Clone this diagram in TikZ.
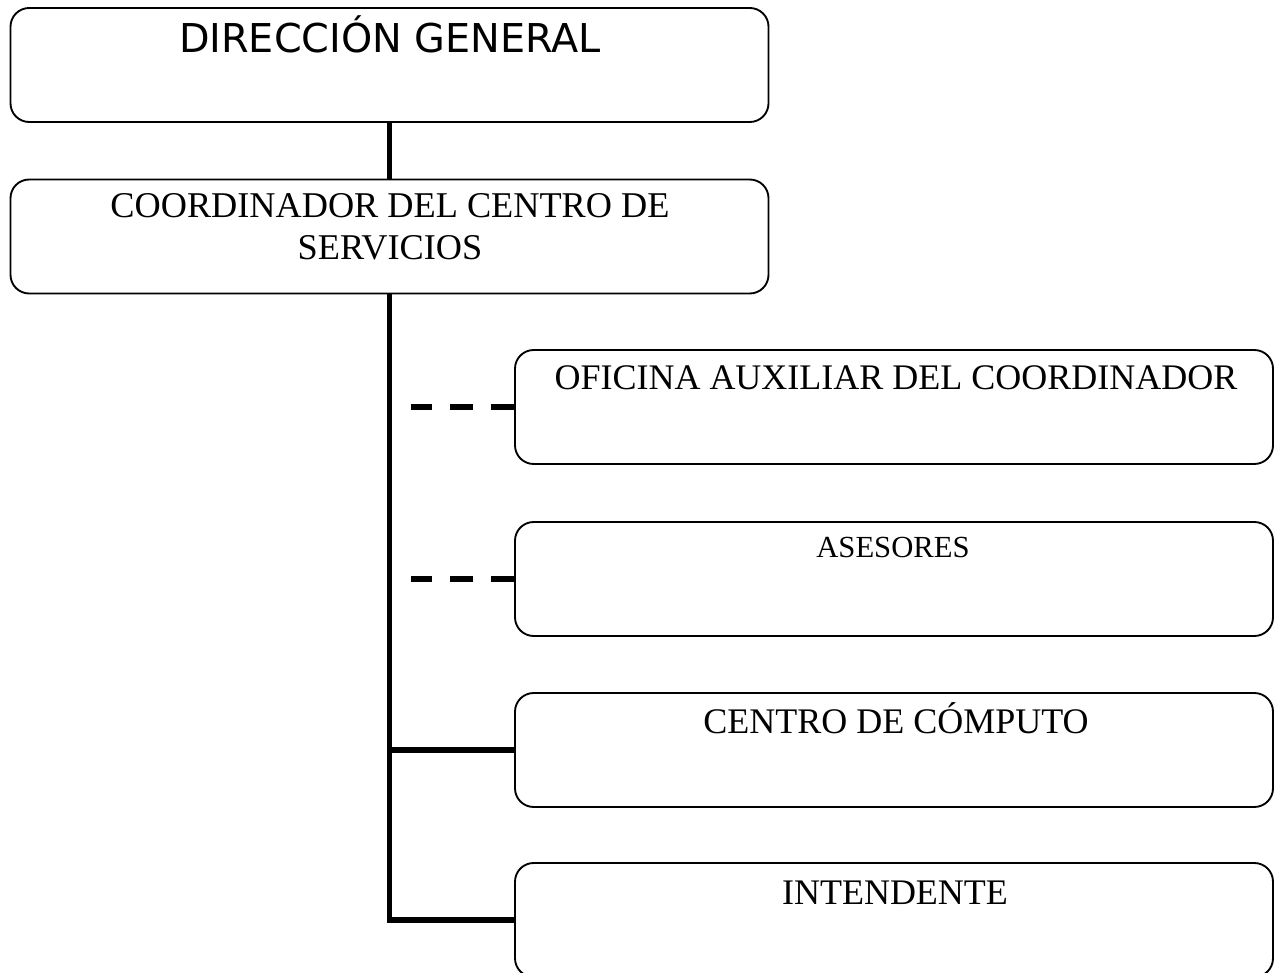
\documentclass[tikz,border=0pt]{standalone}
\usepackage{fontspec}
\setmainfont{Liberation Serif}
\newfontfamily\dgsans{DejaVu Sans}
\begin{document}
\begin{tikzpicture}[x=0.75pt,y=-0.75pt,
  box/.style={draw=black, line width=1.4pt, rounded corners=14pt, inner sep=0pt, fill=white},
  leftbox/.style={box, minimum width=758*0.75pt, minimum height=114*0.75pt},
  rightbox/.style={box, minimum width=758*0.75pt, minimum height=114*0.75pt},
  lbl/.style={anchor=base, inner sep=0pt, font=\fontsize{27}{31.5}\selectfont},
  solidlink/.style={line width=4.2pt},
  dashlink/.style={line width=4pt, dash pattern=on 17.25pt off 13.5pt}]
\useasboundingbox (0,0) rectangle (1279,973);
% boxes
\node[leftbox] (dg) at (389.5,65) {};
\node[leftbox] (coord) at (389.5,236.5) {};
\node[rightbox] (ofi) at (894,407) {};
\node[rightbox] (ase) at (894,579) {};
\node[rightbox] (comp) at (894,750) {};
\node[rightbox] (inte) at (894,920) {};
% labels
\node[lbl, font=\dgsans\fontsize{29.8}{34}\selectfont] (tdg) at (390,53) {DIRECCIÓN GENERAL};
\node[lbl, align=center, font=\fontsize{27.2}{31.5}\selectfont] (tcoord) at (390,260) {COORDINADOR DEL CENTRO DE\\SERVICIOS};
\node[lbl] (tofi) at (896,390) {OFICINA AUXILIAR DEL COORDINADOR};
\node[lbl, font=\fontsize{23}{27}\selectfont] (tase) at (893,557) {ASESORES};
\node[lbl] (tcomp) at (896,733) {CENTRO DE CÓMPUTO};
\node[lbl] (tinte) at (895,904) {INTENDENTE};
% connectors
\coordinate (bend) at (coord.south |- inte.west);
\coordinate (d1) at (411,407);
\coordinate (d2) at (411,579);
\draw[solidlink] (dg.south) -- (coord.north);
\draw[solidlink] (coord.south) -- (bend) -- (inte.west);
\draw[solidlink] (coord.south |- comp.west) -- (comp.west);
\draw[dashlink] (ofi.west) -- (d1);
\draw[dashlink] (ase.west) -- (d2);
\end{tikzpicture}
\end{document}
